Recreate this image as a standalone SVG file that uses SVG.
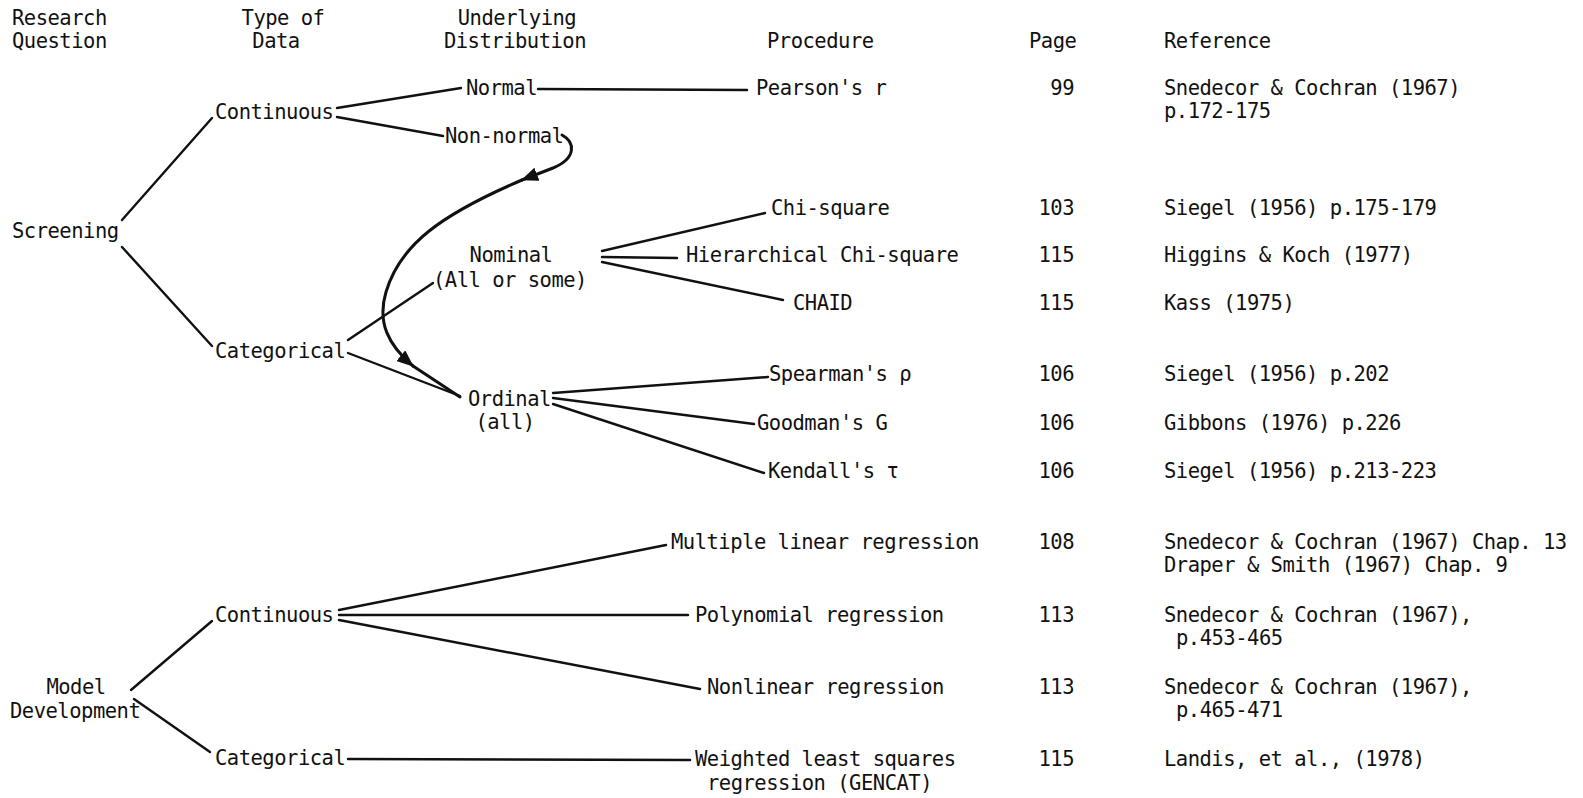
<svg xmlns="http://www.w3.org/2000/svg" width="1583" height="798" viewBox="0 0 1583 798">
  <style>
    text { font-family: "DejaVu Sans Mono", "Liberation Mono", monospace; font-size: 20.5px; letter-spacing: -0.5px; fill: #111; }
    .mid { text-anchor: middle; }
    .end { text-anchor: end; }
    .link { fill: none; stroke: #111; stroke-width: 2.4; stroke-linecap: round; }
    .flow { fill: none; stroke: #111; stroke-width: 3; stroke-linecap: round; }
  </style>
  <defs>
    <marker id="arrow" viewBox="0 0 17 14" refX="16" refY="7" markerWidth="17" markerHeight="14" markerUnits="userSpaceOnUse" orient="auto">
      <path d="M0,0 L17,7 L0,14 Z" fill="#111"/>
    </marker>
  </defs>
  <rect width="1583" height="798" fill="#fff"/>

  <!-- column headings -->
  <g id="headings">
    <text x="12" y="25">Research</text>
    <text x="12" y="48">Question</text>
    <text class="mid" x="283" y="25">Type of</text>
    <text class="mid" x="276" y="48">Data</text>
    <text class="mid" x="517" y="25">Underlying</text>
    <text class="mid" x="515" y="48">Distribution</text>
    <text x="767" y="48">Procedure</text>
    <text x="1029" y="48">Page</text>
    <text x="1164" y="48">Reference</text>
  </g>

  <!-- connectors -->
  <g id="connectors">
    <line class="link" x1="122" y1="220" x2="212" y2="118"/>
    <line class="link" x1="122" y1="247" x2="212" y2="346"/>
    <line class="link" x1="337" y1="108" x2="461" y2="88"/>
    <line class="link" x1="337" y1="117" x2="443" y2="136"/>
    <line class="link" x1="538" y1="89" x2="747" y2="90"/>
    <line class="link" x1="348" y1="340" x2="433" y2="283"/>
    <line class="link" x1="348" y1="353" x2="460" y2="396"/>
    <line class="link" x1="602" y1="251" x2="765" y2="213"/>
    <line class="link" x1="602" y1="257" x2="677" y2="258"/>
    <line class="link" x1="602" y1="262" x2="783" y2="300"/>
    <line class="link" x1="553" y1="393" x2="768" y2="377"/>
    <line class="link" x1="553" y1="398" x2="754" y2="424"/>
    <line class="link" x1="553" y1="404" x2="764" y2="473"/>
    <line class="link" x1="131" y1="690" x2="212" y2="621"/>
    <line class="link" x1="134" y1="699" x2="210" y2="752"/>
    <line class="link" x1="339" y1="610" x2="666" y2="545"/>
    <line class="link" x1="339" y1="615" x2="688" y2="615"/>
    <line class="link" x1="339" y1="620" x2="700" y2="689"/>
    <line class="link" x1="348" y1="759" x2="690" y2="760"/>
    <!-- Non-normal data routed to the ordinal procedures -->
    <path class="flow" d="M562,135 C575,142 577,158 553,168 L522,180" marker-end="url(#arrow)"/>
    <path class="flow" d="M522,180 C440,215 400,245 386,292 C377,322 388,345 413,366" marker-end="url(#arrow)"/>
    <path class="flow" d="M413,366 L460,397"/>
  </g>

  <!-- screening branch -->
  <g id="screening"><text x="12" y="238">Screening</text></g>
  <g id="continuous-1"><text x="215" y="119">Continuous</text></g>
  <g id="categorical-1"><text x="215" y="358">Categorical</text></g>
  <g id="normal"><text x="466" y="95">Normal</text></g>
  <g id="non-normal"><text x="445" y="143">Non-normal</text></g>
  <g id="nominal">
    <text class="mid" x="511" y="262">Nominal</text>
    <text class="mid" x="510" y="287">(All or some)</text>
  </g>
  <g id="ordinal">
    <text x="468" y="406">Ordinal</text>
    <text class="mid" x="505" y="429">(all)</text>
  </g>
  <g id="pearson"><text x="756" y="95">Pearson's r</text></g>
  <g id="chi-square"><text x="771" y="215">Chi-square</text></g>
  <g id="hierarchical"><text x="686" y="262">Hierarchical Chi-square</text></g>
  <g id="chaid"><text x="793" y="310">CHAID</text></g>
  <g id="spearman"><text x="769" y="381">Spearman's ρ</text></g>
  <g id="goodman"><text x="757" y="430">Goodman's G</text></g>
  <g id="kendall"><text x="768" y="478">Kendall's τ</text></g>

  <!-- model development branch -->
  <g id="model-development">
    <text class="mid" x="76" y="694">Model</text>
    <text x="10" y="718">Development</text>
  </g>
  <g id="continuous-2"><text x="215" y="622">Continuous</text></g>
  <g id="categorical-2"><text x="215" y="765">Categorical</text></g>
  <g id="multiple"><text x="671" y="549">Multiple linear regression</text></g>
  <g id="polynomial"><text x="695" y="622">Polynomial regression</text></g>
  <g id="nonlinear"><text x="707" y="694">Nonlinear regression</text></g>
  <g id="weighted">
    <text x="695" y="766">Weighted least squares</text>
    <text x="707" y="790">regression (GENCAT)</text>
  </g>

  <!-- page numbers -->
  <g id="pages">
    <text class="end" x="1074" y="95">99</text>
    <text class="end" x="1074" y="215">103</text>
    <text class="end" x="1074" y="262">115</text>
    <text class="end" x="1074" y="310">115</text>
    <text class="end" x="1074" y="381">106</text>
    <text class="end" x="1074" y="430">106</text>
    <text class="end" x="1074" y="478">106</text>
    <text class="end" x="1074" y="549">108</text>
    <text class="end" x="1074" y="622">113</text>
    <text class="end" x="1074" y="694">113</text>
    <text class="end" x="1074" y="766">115</text>
  </g>

  <!-- references -->
  <g id="references">
    <text x="1164" y="95">Snedecor &amp; Cochran (1967)</text>
    <text x="1164" y="118">p.172-175</text>
    <text x="1164" y="215">Siegel (1956) p.175-179</text>
    <text x="1164" y="262">Higgins &amp; Koch (1977)</text>
    <text x="1164" y="310">Kass (1975)</text>
    <text x="1164" y="381">Siegel (1956) p.202</text>
    <text x="1164" y="430">Gibbons (1976) p.226</text>
    <text x="1164" y="478">Siegel (1956) p.213-223</text>
    <text x="1164" y="549">Snedecor &amp; Cochran (1967) Chap. 13</text>
    <text x="1164" y="572">Draper &amp; Smith (1967) Chap. 9</text>
    <text x="1164" y="622">Snedecor &amp; Cochran (1967),</text>
    <text x="1176" y="645">p.453-465</text>
    <text x="1164" y="694">Snedecor &amp; Cochran (1967),</text>
    <text x="1176" y="717">p.465-471</text>
    <text x="1164" y="766">Landis, et al., (1978)</text>
  </g>
</svg>
